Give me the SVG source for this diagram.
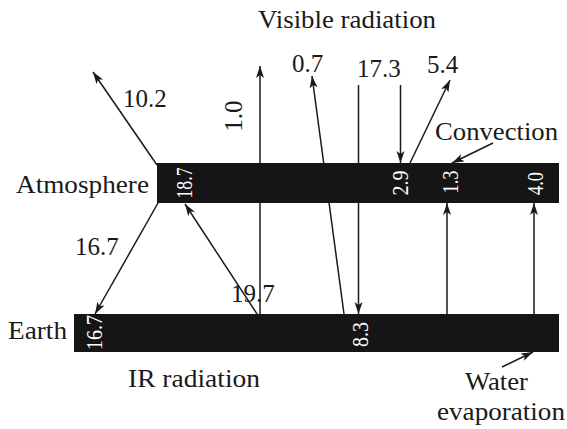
<svg xmlns="http://www.w3.org/2000/svg" width="567" height="429" viewBox="0 0 567 429" font-family="'Liberation Serif', Tinos, serif">
<style>
text{fill:#1a1a1a}
.lbl{font-size:25px}
.num{font-size:25px}
.in{font-size:23px;fill:#ffffff;text-anchor:middle}
.bar{fill:#151515}
.ln{stroke:#1a1a1a;stroke-width:1.5;fill:none}
.arr{marker-end:url(#ah)}
</style>
<defs>
<marker id="ah" markerUnits="userSpaceOnUse" markerWidth="14" markerHeight="10" refX="12" refY="4" orient="auto">
<path d="M0,0 L12,4 L0,8 L3,4 z" fill="#1a1a1a"/>
</marker>
</defs>
<g id="connectors">
<line class="ln arr" x1="157" y1="165" x2="93" y2="72"/>
<line class="ln arr" x1="260" y1="314" x2="260" y2="66"/>
<line class="ln arr" x1="344" y1="314" x2="312" y2="76"/>
<line class="ln arr" x1="358.5" y1="85" x2="358.5" y2="314"/>
<line class="ln arr" x1="400.5" y1="85" x2="400.5" y2="163"/>
<line class="ln arr" x1="410" y1="163" x2="450" y2="80"/>
<line class="ln arr" x1="493" y1="143" x2="452" y2="163"/>
<line class="ln arr" x1="447" y1="314" x2="447" y2="203"/>
<line class="ln arr" x1="534" y1="314" x2="534" y2="203"/>
<line class="ln arr" x1="158" y1="203" x2="95" y2="314"/>
<line class="ln arr" x1="257" y1="314" x2="185" y2="204"/>
<line class="ln arr" x1="502" y1="367" x2="533" y2="352"/>
</g>
<g id="atmosphere">
<rect class="bar" x="157" y="163" width="402" height="40"/>
<text class="lbl" x="16" y="193" textLength="133" lengthAdjust="spacingAndGlyphs">Atmosphere</text>
<text class="in" transform="translate(184,183) rotate(-90)" x="0" y="8" textLength="31" lengthAdjust="spacingAndGlyphs">18.7</text>
<text class="in" transform="translate(400,183) rotate(-90)" x="0" y="8" textLength="25" lengthAdjust="spacingAndGlyphs">2.9</text>
<text class="in" transform="translate(449.5,182) rotate(-90)" x="0" y="8" textLength="23" lengthAdjust="spacingAndGlyphs">1.3</text>
<text class="in" transform="translate(535,183.5) rotate(-90)" x="0" y="8" textLength="23" lengthAdjust="spacingAndGlyphs">4.0</text>
</g>
<g id="earth">
<rect class="bar" x="74" y="314" width="485" height="38"/>
<text class="lbl" x="8" y="339" textLength="59" lengthAdjust="spacingAndGlyphs">Earth</text>
<text class="in" transform="translate(94,332.5) rotate(-90)" x="0" y="8" textLength="35" lengthAdjust="spacingAndGlyphs">16.7</text>
<text class="in" transform="translate(360,334.5) rotate(-90)" x="0" y="8" textLength="25" lengthAdjust="spacingAndGlyphs">8.3</text>
</g>
<g id="labels">
<text class="lbl" x="258" y="28" textLength="178" lengthAdjust="spacingAndGlyphs">Visible radiation</text>
<text class="lbl" x="435" y="140" textLength="123" lengthAdjust="spacingAndGlyphs">Convection</text>
<text class="lbl" x="128" y="387" textLength="132" lengthAdjust="spacingAndGlyphs">IR radiation</text>
<text class="lbl" x="465" y="390" textLength="63" lengthAdjust="spacingAndGlyphs">Water</text>
<text class="lbl" x="437" y="420" textLength="128" lengthAdjust="spacingAndGlyphs">evaporation</text>
<text class="num" x="123" y="107">10.2</text>
<text class="num" transform="translate(233,116) rotate(-90)" x="0" y="9" text-anchor="middle">1.0</text>
<text class="num" x="292" y="72">0.7</text>
<text class="num" x="357" y="77">17.3</text>
<text class="num" x="427" y="73">5.4</text>
<text class="num" x="75" y="255">16.7</text>
<text class="num" x="231" y="302">19.7</text>
</g>
</svg>
